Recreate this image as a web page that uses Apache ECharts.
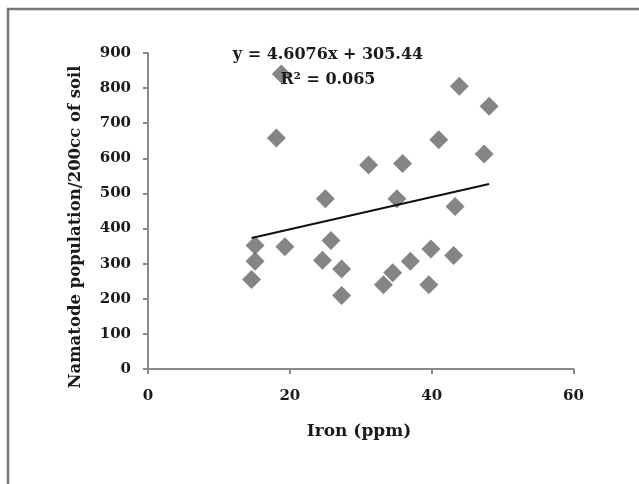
<!DOCTYPE html>
<html>
<head>
<meta charset="utf-8">
<script src="https://cdn.jsdelivr.net/npm/echarts@6/dist/echarts.min.js"></script>
<style>html,body{margin:0;padding:0;background:#fff}#c{width:639px;height:484px}</style>
</head>
<body>
<div id="c"></div>
<script>
var ironPpm = [14.6, 15.1, 15.1, 18.1, 18.8, 19.3, 24.6, 25.0, 25.8, 27.3, 27.3, 31.1, 33.2, 34.5, 35.1, 35.9, 37.0, 39.6, 39.9, 41.0, 43.1, 43.3, 43.9, 47.4, 48.1];
var nematodes = [255, 307, 352, 658, 840, 348, 310, 485, 366, 285, 209, 581, 240, 274, 485, 585, 307, 240, 342, 653, 323, 463, 805, 612, 748];
var trendX = [14.6, 48.1];
var trendY = [373, 527];
var xTicks = [0, 20, 40, 60];
var yTicks = [0, 100, 200, 300, 400, 500, 600, 700, 800, 900];
var eqText = 'y = 4.6076x + 305.44';
var r2Text = 'R² = 0.065';
var xTitle = 'Iron (ppm)';
var yTitle = 'Namatode population/200cc of soil';

var pts = ironPpm.map(function (x, i) { return [x, nematodes[i]]; });
var trend = trendX.map(function (x, i) { return [x, trendY[i]]; });
var font = '"DejaVu Serif", "Liberation Serif", serif';
var txt = '#1a1a1a';

var chart = echarts.init(document.getElementById('c'), null, {renderer: 'canvas'});
chart.setOption({
  animation: false,
  backgroundColor: '#fff',
  grid: {left: 148, right: 65.5, top: 53, bottom: 115, containLabel: false},
  xAxis: {
    type: 'value', min: xTicks[0], max: xTicks[xTicks.length - 1], interval: 20,
    splitLine: {show: false},
    axisLine: {lineStyle: {color: '#8a8a8a', width: 2}},
    axisTick: {show: true, length: 5, lineStyle: {color: '#8a8a8a', width: 2}},
    axisLabel: {margin: 20, color: txt, fontFamily: font, fontWeight: 'bold', fontSize: 15}
  },
  yAxis: {
    type: 'value', min: yTicks[0], max: yTicks[yTicks.length - 1], interval: 100,
    splitLine: {show: false},
    axisLine: {show: true, lineStyle: {color: '#8a8a8a', width: 2}},
    axisTick: {show: true, length: 5, lineStyle: {color: '#8a8a8a', width: 2}},
    axisLabel: {margin: 17, color: txt, fontFamily: font, fontWeight: 'bold', fontSize: 15}
  },
  series: [
    {
      type: 'scatter', data: pts, symbol: 'diamond', symbolSize: 19,
      itemStyle: {color: '#666666'}, z: 2
    },
    {
      type: 'line', data: trend, symbol: 'none', lineStyle: {color: '#111', width: 2}, z: 3
    }
  ],
  graphic: [
    {type: 'rect', x: 8, y: 9, shape: {x: 0, y: 0, width: 700, height: 600}, style: {fill: 'none', stroke: '#777', lineWidth: 2.5}, silent: true},
    {type: 'text', x: 328, y: 55, style: {text: eqText, font: 'bold 16px ' + font, fill: txt, align: 'center', verticalAlign: 'middle'}, z: 10},
    {type: 'text', x: 328, y: 80, style: {text: r2Text, font: 'bold 16px ' + font, fill: txt, align: 'center', verticalAlign: 'middle'}, z: 10},
    {type: 'text', x: 359, y: 432, style: {text: xTitle, font: 'bold 17px ' + font, fill: txt, align: 'center', verticalAlign: 'middle'}},
    {type: 'text', x: 76, y: 227, rotation: Math.PI / 2, style: {text: yTitle, font: 'bold 16.5px ' + font, fill: txt, align: 'center', verticalAlign: 'middle'}}
  ]
});
</script>
</body>
</html>
